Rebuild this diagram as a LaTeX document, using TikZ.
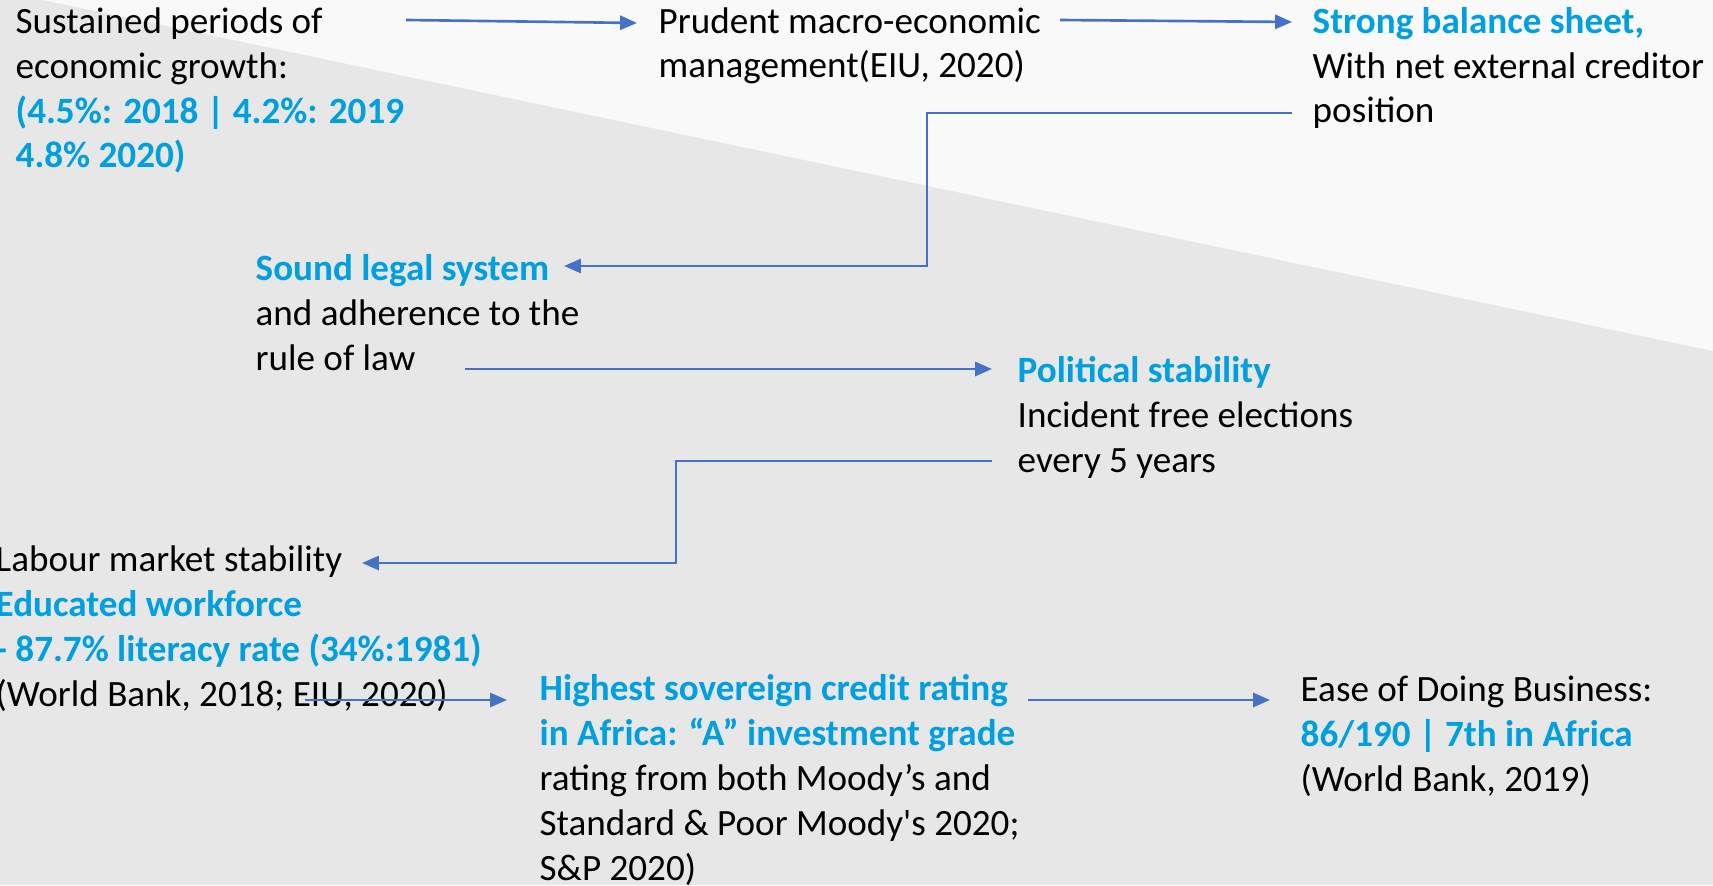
\documentclass[tikz,border=0pt]{standalone}
\usepackage{fontspec}
\setmainfont{Carlito}
\usetikzlibrary{arrows.meta}
\definecolor{bggray}{HTML}{E7E7E7}
\definecolor{bgwhite}{HTML}{F9F9F9}
\definecolor{tblue}{HTML}{009FDF}
\definecolor{lblue}{HTML}{4472C4}
\tikzset{
  txt/.style={inner sep=0pt, anchor=base west, align=left,
    font=\fontsize{10.55pt}{12.75pt}\selectfont, text=black},
  arr/.style={draw=lblue, line width=0.75pt, -{Triangle[length=4.8pt,width=4pt]}},
}
\newcommand{\hl}[1]{\textcolor{tblue}{\bfseries #1}}
\begin{document}
\begin{tikzpicture}[x=0.01cm,y=-0.01cm]
\useasboundingbox (0,0) rectangle (1713,885);
\fill[bggray] (0,0) rectangle (1713,885);
\fill[bgwhite] (43,0) -- (1713,351) -- (1713,0) -- cycle;

% base anchor = baseline of the last line
\node[txt] (A) at (15,168) {Sustained periods of\\economic growth:\\\hl{(4.5\%: 2018 | 4.2\%: 2019}\\\hl{4.8\% 2020)}};
\node[txt] (B) at (658,78) {Prudent macro-economic\\management(EIU, 2020)};
\node[txt] (C) at (1312,123) {\hl{Strong balance sheet,}\\With net external creditor\\position};
\node[txt] (D) at (255,370) {\hl{Sound legal system}\\and adherence to the\\rule of law};
\node[txt] (E) at (1017,472) {\hl{Political stability}\\Incident free elections\\every 5 years};
\node[txt] (F) at (-5,706) {Labour market stability\\\hl{Educated workforce}\\\hl{- 87.7\% literacy rate (34\%:1981)}\\(World Bank, 2018; EIU, 2020)};
\node[txt] (G) at (539,880) {\hl{Highest sovereign credit rating}\\\hl{in Africa: “A” investment grade}\\rating from both Moody’s and\\Standard \& Poor Moody\textquotesingle s 2020;\\S\&P 2020)};
\node[txt] (H) at (1300,791) {Ease of Doing Business:\\\hl{86/190 | 7th in Africa}\\(World Bank, 2019)};

\coordinate (A-out) at (406,20);
\coordinate (B-in) at (637,23);
\coordinate (B-out) at (1060,20);
\coordinate (C-in) at (1292,22);
\coordinate (C-out) at (1292,113);
\coordinate (D-in) at (564,266);
\coordinate (D-out) at (465,369);
\coordinate (E-in) at (992,369);
\coordinate (E-out) at (992,461);
\coordinate (F-in) at (362,563);
\coordinate (F-out) at (305,700);
\coordinate (G-in) at (507,700);
\coordinate (G-out) at (1028,700);
\coordinate (H-in) at (1270,700);

\draw[arr] (A-out) -- (B-in);
\draw[arr] (B-out) -- (C-in);
\draw[arr] (C-out) -- (927,113) -- (927,266) -- (D-in);
\draw[arr] (D-out) -- (E-in);
\draw[arr] (E-out) -- (676,461) -- (676,563) -- (F-in);
\draw[arr] (F-out) -- (G-in);
\draw[arr] (G-out) -- (H-in);
\end{tikzpicture}
\end{document}
